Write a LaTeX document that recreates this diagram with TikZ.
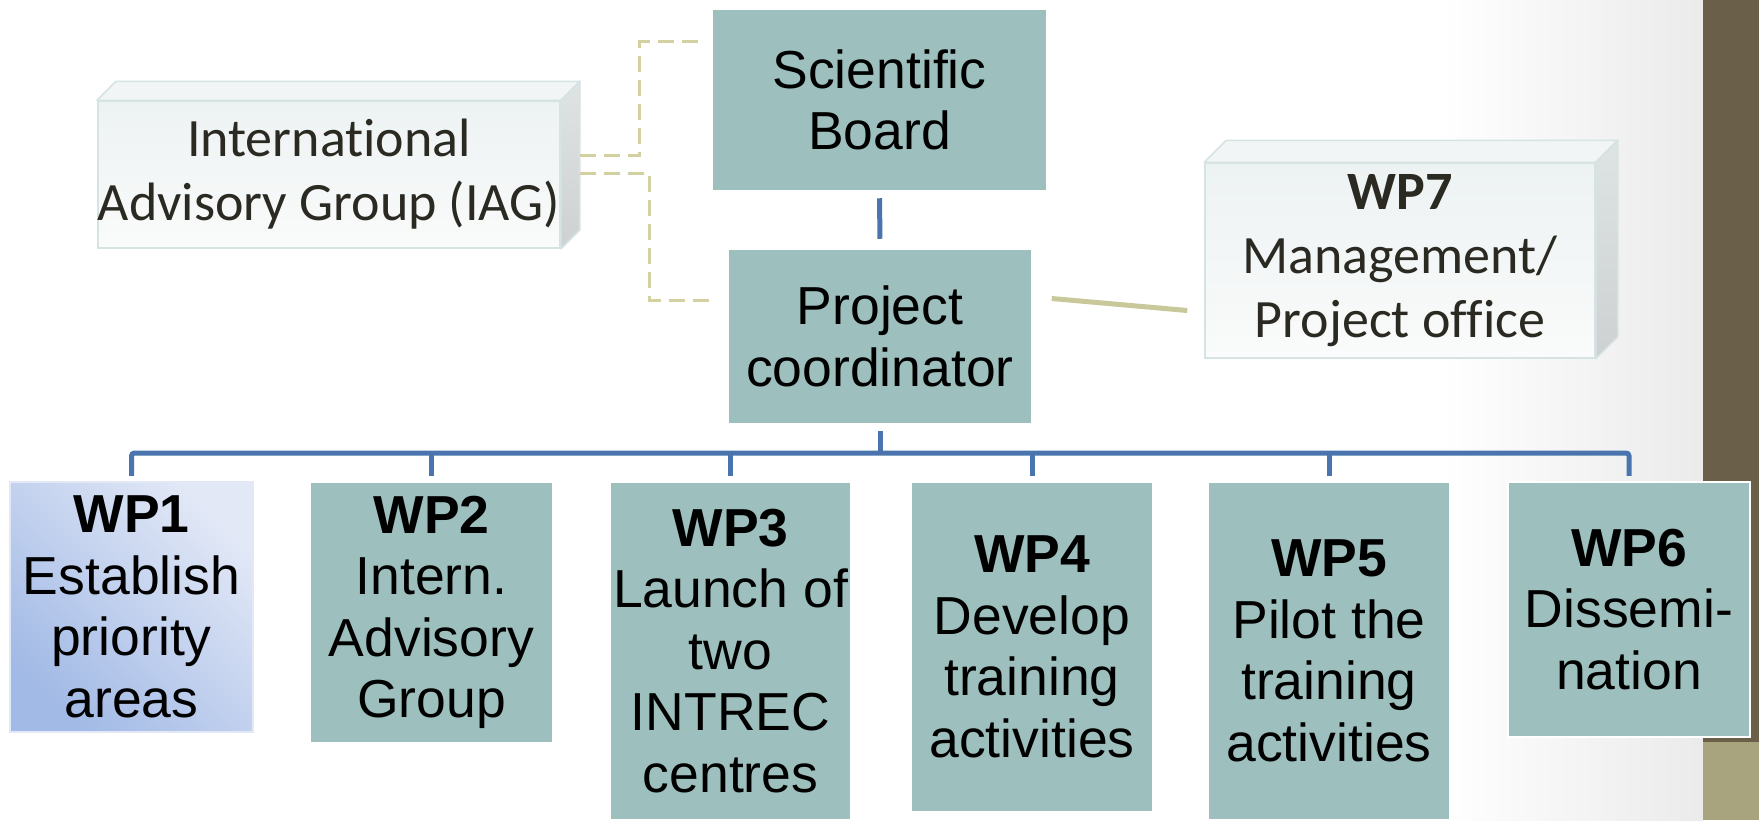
\documentclass[tikz,border=0pt]{standalone}
\usepackage{fontspec}
\setmainfont{Liberation Sans}
\newfontfamily\calfont[Ligatures=NoCommon]{Carlito}
\usetikzlibrary{calc}
\definecolor{tealc}{HTML}{9DBFBD}
\definecolor{bluec}{HTML}{4A74AD}
\definecolor{dashc}{HTML}{D3D1A2}
\definecolor{khakic}{HTML}{C9C89B}
\definecolor{barbrown}{HTML}{6A604A}
\definecolor{barolive}{HTML}{A8A57E}
\definecolor{facetop}{HTML}{EDF2F2}
\definecolor{facebot}{HTML}{FAFBFB}
\definecolor{faceline}{HTML}{D6E3E3}
\definecolor{sidetop}{HTML}{DEE3E3}
\definecolor{sidebot}{HTML}{CDD1D1}
\definecolor{darktext}{HTML}{2B2A22}
\definecolor{wpone}{HTML}{A2BAE6}
\definecolor{wponelight}{HTML}{E2E8F6}
\newcommand\arialtext{\fontsize{53.5}{61.5}\selectfont}
\newcommand\calibtext{\calfont\fontsize{54}{64}\selectfont\color{darktext}}
\begin{document}
\begin{tikzpicture}[x=1pt,y=1pt,
  wpbox/.style={rectangle, fill=tealc, draw=white, line width=2.5pt, align=center, inner sep=0pt, font=\arialtext},
  frontface/.style={rectangle, top color=facetop, bottom color=facebot, draw=faceline, line width=1.5pt, align=center, inner sep=0pt, font=\calibtext},
  topface/.style={fill=facetop!80!white, draw=faceline, line width=1.5pt, line join=round},
  sideface/.style={top color=sidetop, bottom color=sidebot, draw=faceline, line width=1.5pt, line join=round},
  blueline/.style={draw=bluec, line width=5pt},
  iagdash/.style={draw=dashc, line width=3pt, dash pattern=on 16pt off 8pt},
  khakiline/.style={draw=khakic, line width=5pt}]
\useasboundingbox (0,0) rectangle (1759,-820);
\fill[white] (0,0) rectangle (1759,-820);
\shade[left color=white, right color=black!8] (1440,0) rectangle (1703,-820);
\fill[barbrown] (1703,0) rectangle (1759,-742);
\fill[barolive] (1703,-742) rectangle (1759,-820);

% upper nodes
\node[wpbox, minimum width=335, minimum height=182] (SB) at (879.5,-100) {Scientific\\Board};
\node[wpbox, minimum width=305, minimum height=175] (PC) at (880,-336.5) {Project\\coordinator};

% IAG 3D box
\node[frontface, minimum width=460, minimum height=147] (IAG) at (329,-174.5) {International\\Advisory Group (IAG)};
\path[topface] (IAG.north west) -- ++(19,19) -- ([shift={(19pt,19pt)}]IAG.north east) -- (IAG.north east) -- cycle;
\path[sideface] (IAG.north east) -- ++(19,19) -- ([shift={(19pt,19pt)}]IAG.south east) -- (IAG.south east) -- cycle;

% WP7 3D box
\node[frontface, minimum width=390, minimum height=195] (WP7) at (1400,-260.5) {\textbf{WP7}\\Management/\\Project office};
\path[topface] (WP7.north west) -- ++(22,22) -- ([shift={(22pt,22pt)}]WP7.north east) -- (WP7.north east) -- cycle;
\path[sideface] (WP7.north east) -- ++(22,22) -- ([shift={(22pt,22pt)}]WP7.south east) -- (WP7.south east) -- cycle;

% work packages
\node[wpbox, minimum width=243, minimum height=250, fill=none, left color=wponelight, right color=wpone, shading angle=-45, draw=wponelight] (WP1) at (131.5,-607) {\textbf{WP1}\\Establish\\priority\\areas};
\node[wpbox, minimum width=243, minimum height=261] (WP2) at (431.5,-612.5) {\textbf{WP2}\\Intern.\\Advisory\\Group};
\node[wpbox, minimum width=241, minimum height=338] (WP3) at (730.5,-651) {\textbf{WP3}\\Launch of\\two\\INTREC\\centres};
\node[wpbox, minimum width=242, minimum height=330] (WP4) at (1032,-647) {\textbf{WP4}\\Develop\\training\\activities};
\node[wpbox, minimum width=242, minimum height=338] (WP5) at (1329,-651) {\textbf{WP5}\\Pilot the\\training\\activities};
\node[wpbox, minimum width=242, minimum height=255] (WP6) at (1629,-609.5) {\textbf{WP6}\\Dissemi-\\nation};

% connectors
\draw[iagdash] ([shift={(19pt,19pt)}]IAG.east) -- ++(60,0) |- ([shift={(-9pt,-34pt)}]SB.north west);
\draw[iagdash] ([shift={(19pt,1pt)}]IAG.east) -- ++(70,0) |- ([shift={(-10pt,36pt)}]PC.west);
\draw[khakiline] ([shift={(18pt,38pt)}]PC.east) -- ([shift={(-17pt,-50pt)}]WP7.west);
\draw[blueline, shorten <=6pt, shorten >=9pt] (SB.south) -- (PC.north);
\coordinate (bus) at (880,-453);
\draw[blueline] ([yshift=-6pt]PC.south) -- (PC.south |- bus);
\draw[blueline, rounded corners=3pt] ([yshift=5pt]WP1.north) |- (bus) -| ([yshift=5pt]WP6.north);
\draw[blueline] (WP2.north |- bus) -- ([yshift=5pt]WP2.north);
\draw[blueline] (WP3.north |- bus) -- ([yshift=5pt]WP3.north);
\draw[blueline] (WP4.north |- bus) -- ([yshift=5pt]WP4.north);
\draw[blueline] (WP5.north |- bus) -- ([yshift=5pt]WP5.north);
\end{tikzpicture}
\end{document}
